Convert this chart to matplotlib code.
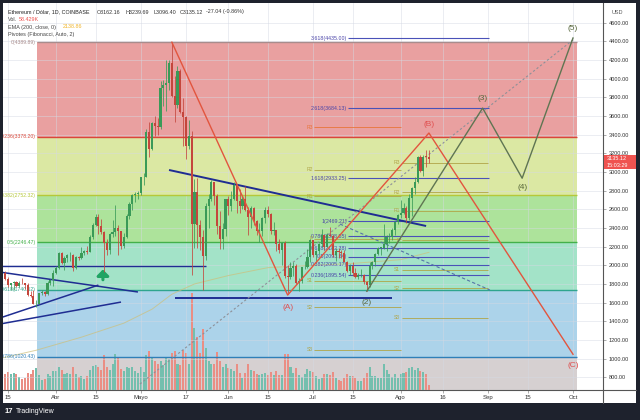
import numpy as np
import pandas as pd
import matplotlib
matplotlib.use('Agg')
import matplotlib.pyplot as plt
import matplotlib.dates as mdates
from matplotlib.patches import Rectangle
from matplotlib.lines import Line2D
from matplotlib.ticker import FormatStrFormatter

plt.rcParams['font.family'] = ['Liberation Sans', 'DejaVu Sans']

# ETH / USD daily candles, 13 Mar - 11 Aug 2021
dates = pd.date_range('2021-03-13', '2021-08-11', freq='D')
first_open = 1765

closes = ([1920, 1855, 1790, 1805, 1822, 1780, 1810, 1808, 1785, 1680, 1670, 1585, 1590, 1700, 1715, 1690, 1815, 1845, 1920]
          + [1970, 2135, 2025, 2080, 2110, 2115, 1970, 2085, 2075, 2135, 2150, 2140, 2300, 2430, 2515,
             2420, 2355, 2235, 2160, 2330, 2360, 2400, 2365, 2210, 2305, 2530, 2660, 2750, 2760, 2770]
          + [2945, 2950, 3430, 3250, 3520, 3490, 3480, 3900, 3930, 3950, 4170, 3810, 3720, 4080, 3640, 3590,
             3280, 3380, 2440, 2780, 2430, 2300, 2100, 2640, 2710, 2890, 2745, 2420, 2280, 2390, 2710]
          + [2630, 2710, 2855, 2690, 2630, 2715, 2590, 2520, 2610, 2470, 2370, 2370, 2510, 2590, 2550,
             2365, 2375, 2230, 2165, 2240, 1890, 1875, 1970, 1990, 1810, 1830, 1980, 1980, 2090, 2270]
          + [2110, 2150, 2225, 2325, 2200, 2325, 2315, 2115, 2150, 2140, 2135, 2035, 1940, 1995, 1915, 1875,
             1895, 1895, 1820, 1785, 1995, 2030, 2125, 2190, 2190, 2230, 2300, 2300, 2380, 2460, 2535]
          + [2555, 2610, 2505, 2725, 2825, 2890, 3160, 3015, 3165, 3162.16, 3135.12])

highs = ([1945, 1935, 1875, 1815, 1835, 1835, 1830, 1860, 1815, 1810, 1725, 1740, 1625, 1705, 1730, 1725, 1830, 1850, 1945]
         + [1990, 2145, 2145, 2095, 2125, 2145, 2125, 2095, 2100, 2195, 2165, 2205, 2320, 2450, 2545,
            2550, 2500, 2365, 2280, 2350, 2490, 2645, 2430, 2370, 2345, 2550, 2675, 2760, 2790, 2800]
         + [2950, 2985, 3460, 3530, 3540, 3600, 3580, 3970, 3990, 4200, 4195, 4389.89, 4030, 4140, 4100, 3790,
            3600, 3560, 3440, 2920, 2940, 2480, 2380, 2670, 2765, 2915, 2890, 2760, 2585, 2450, 2715]
         + [2740, 2800, 2890, 2865, 2815, 2740, 2845, 2620, 2640, 2620, 2490, 2450, 2520, 2620, 2640,
            2560, 2460, 2380, 2280, 2250, 2255, 2000, 2040, 2030, 2010, 1860, 1980, 2050, 2170, 2280]
         + [2270, 2160, 2240, 2390, 2320, 2350, 2410, 2325, 2190, 2190, 2165, 2165, 2050, 2010, 2035, 1975,
            1920, 1960, 1910, 1830, 2035, 2045, 2130, 2195, 2200, 2440, 2320, 2345, 2400, 2470, 2550]
         + [2700, 2665, 2630, 2760, 2835, 2950, 3175, 3185, 3185, 3230, 3239.69])

lows = ([1730, 1845, 1765, 1735, 1735, 1765, 1770, 1800, 1745, 1670, 1655, 1580, 1550, 1585, 1680, 1670, 1680, 1785, 1775]
        + [1905, 1960, 2015, 1950, 2030, 2050, 1935, 1965, 2055, 2065, 2105, 2125, 2140, 2280, 2425,
           2330, 2330, 1930, 2105, 2125, 2300, 2310, 2105, 2175, 2180, 2295, 2500, 2590, 2680, 2715]
        + [2755, 2860, 2945, 3165, 3230, 3380, 3400, 3465, 3710, 3650, 3880, 3800, 3530, 3680, 3630, 3280,
           3140, 3250, 1900, 2180, 2190, 2160, 1730, 2060, 2400, 2690, 2650, 2330, 2170, 2170, 2310]
        + [2540, 2580, 2700, 2560, 2560, 2600, 2580, 2320, 2400, 2430, 2320, 2250, 2310, 2450, 2520,
           2340, 2320, 2150, 2130, 2000, 1860, 1700, 1850, 1880, 1800, 1720, 1815, 1955, 1970, 2030]
        + [2090, 2030, 2125, 2200, 2160, 2200, 2310, 2085, 2050, 2080, 2080, 2030, 1925, 1900, 1890, 1860,
           1850, 1870, 1800, 1720, 1770, 1960, 1990, 2110, 2115, 2170, 2155, 2240, 2275, 2320, 2440]
        + [2510, 2550, 2450, 2485, 2530, 2760, 2880, 2995, 2955, 3055, 3096.40])

volumes_k = ([260, 210, 230, 200, 220, 200, 170, 140, 150, 220, 210, 260, 280, 190, 130, 140, 200, 180, 240]
             + [240, 300, 260, 200, 220, 210, 300, 200, 170, 180, 140, 180, 260, 310, 320,
                300, 260, 450, 300, 260, 330, 470, 420, 270, 240, 300, 280, 290, 250, 220]
             + [290, 230, 450, 500, 420, 370, 330, 380, 320, 420, 400, 480, 500, 330, 320, 520,
                480, 330, 1250, 800, 680, 480, 780, 540, 380, 330, 330, 490, 380, 300, 330]
             + [280, 270, 240, 330, 220, 160, 220, 340, 260, 250, 200, 190, 200, 220, 190,
                230, 190, 240, 190, 190, 460, 470, 300, 220, 280, 190, 170, 200, 270, 250]
             + [230, 180, 140, 160, 210, 200, 190, 230, 160, 130, 110, 160, 200, 180, 180, 160,
                110, 120, 160, 220, 290, 180, 180, 160, 150, 340, 260, 210, 170, 200, 150]
             + [200, 220, 230, 280, 300, 260, 280, 240, 230, 200, 58.429])

# EMA 200 (sampled along the line)
ema_dates = ['2021-03-12', '2021-03-25', '2021-04-10', '2021-04-25', '2021-05-05', '2021-05-12',
             '2021-05-20', '2021-06-01', '2021-06-15', '2021-07-01', '2021-07-15', '2021-08-01', '2021-08-11']
ema_values = [1000, 1090, 1230, 1380, 1530, 1690, 1800, 1890, 1975, 2000, 2020, 2060, 2138.86]

# Fibonacci retracement zones
fib_names = ['0', '0.236', '0.382', '0.5', '0.618', '0.786', '1']
fib_prices = [4389.89, 3378.20, 2752.32, 2246.47, 1740.62, 1020.43, 103.09]
fib_fill = ['#e9a0a0', '#dbe8a3', '#ade39b', '#a3e3c8', '#acd3ea', '#d6d0d1']
fib_line = ['#a88c8c', '#d9473a', '#b5c83a', '#43b04a', '#2fa58e', '#2f7fb8']

# Fibonacci extension
ext_names = ['0.236', '0.382', '0.5', '0.618', '0.786', '1', '1.618', '2.618', '3.618']
ext_prices = [1895.54, 2005.17, 2093.64, 2182.38, 2308.55, 2469.21, 2933.25, 3684.13, 4435.00]

# monthly Fibonacci pivots
pivot_names = ['R3', 'R2', 'R1', 'P', 'S1', 'S2', 'S3']
pivot_jul = [3477, 3022, 2742, 2287, 1832, 1552, 1097]
pivot_aug = [3098, 2781, 2585, 2268, 1951, 1755, 1438]

# Elliott waves
abc_labels = ['', '(A)', '(B)', '(C)']
abc_dates = ['2021-05-12', '2021-06-22', '2021-08-11', '2021-10-01']
abc_prices = [4389.89, 1681, 3417, 1047]
wave_labels = ['(2)', '(3)', '(4)', '(5)']
wave_dates = ['2021-07-20', '2021-08-30', '2021-09-13', '2021-10-01']
wave_prices = [1722, 3684, 2933, 4435]

# trend lines: (start date, start price, end date, end price, width)
trend_lines = [
    ('2021-05-11', 3021, '2021-08-10', 2421, 1.4),
    ('2021-05-13', 1646, '2021-07-29', 1646, 1.4),
    ('2021-03-12', 1993, '2021-05-24', 1993, 1.0),
    ('2021-03-12', 1928, '2021-04-30', 1714, 1.1),
    ('2021-03-12', 1434, '2021-04-16', 1788, 1.1),
    ('2021-03-12', 1370, '2021-04-24', 1606, 1.1),
]

tick_dates = ['2021-03-15', '2021-04-01', '2021-04-15', '2021-05-01', '2021-05-17', '2021-06-01', '2021-06-15',
              '2021-07-01', '2021-07-15', '2021-08-01', '2021-08-16', '2021-09-01', '2021-09-15', '2021-10-01']
tick_labels = ['15', 'Abr', '15', 'Mayo', '17', 'Jun', '15', 'Jul', '15', 'Ago', '16', 'Sep', '15', 'Oct']
price_ticks = np.arange(800, 4601, 200)


def dn(s):
    return mdates.date2num(pd.Timestamp(s))


W, H = 640, 420


def fx(x):
    return x / W


def fy(y):
    return 1 - y / H


fig = plt.figure(figsize=(6.4, 4.2), dpi=100, facecolor='#1e222d')
fig.add_artist(Rectangle((fx(3), fy(403)), 633 / W, 400 / H, transform=fig.transFigure,
                         facecolor='white', edgecolor='none', zorder=-5))

rect = [fx(3), fy(390), 600 / W, 387 / H]
ax = fig.add_axes(rect)                          # zones + axes
axv = fig.add_axes(rect, sharex=ax)              # volume
axf = fig.add_axes(rect, sharex=ax, sharey=ax)   # candles + drawings
ax.set_zorder(0)
axv.set_zorder(1)
axf.set_zorder(2)
for a in (axv, axf):
    a.patch.set_visible(False)
    a.axis('off')

x0 = dn('2021-03-15')
ax.set_xlim(x0 - 5 / 2.825, x0 + 595 / 2.825)
ax.set_ylim(664, 4810)

# grid
for t in tick_dates:
    axf.axvline(dn(t), color='#d5d9e3', lw=0.6, alpha=0.55, zorder=0)
for p in price_ticks:
    axf.axhline(p, color='#d5d9e3', lw=0.6, alpha=0.55, zorder=0)

# retracement zones
band_start = dn('2021-03-25') + 0.3
band_end = dn('2021-10-02') + 0.4
for i in range(6):
    ax.fill_between([band_start, band_end], fib_prices[i + 1], fib_prices[i], color=fib_fill[i], lw=0)
for i in range(6):
    axf.hlines(fib_prices[i], band_start, band_end, color=fib_line[i], lw=1.0, zorder=1)
    axf.text(band_start - 0.4, fib_prices[i], f'{fib_names[i]}({fib_prices[i]:.2f})', ha='right', va='center',
             fontsize=3.7, color=fib_line[i], clip_on=True)

# volume
x = mdates.date2num(dates)
c = np.array(closes, dtype=float)
o = np.array([first_open] + closes[:-1], dtype=float)
up = c >= o
axv.bar(x, volumes_k, width=0.72, color=np.where(up, '#74bfae', '#ea8e84'), lw=0)
axv.set_ylim(0, max(volumes_k) * 387 / 97)

# EMA
axf.plot([dn(d) for d in ema_dates], ema_values, color='#cdbf7a', lw=0.7, alpha=0.7, zorder=2)

# pivots
for start, end, vals in (('2021-07-01', '2021-08-01', pivot_jul), ('2021-08-01', '2021-09-01', pivot_aug)):
    for name, v in zip(pivot_names, vals):
        col = '#e8753a' if (name == 'R3' and vals is pivot_jul) else '#b0a548'
        axf.hlines(v, dn(start) + 0.3, dn(end), color=col, lw=0.6, zorder=2)
        axf.text(dn(start) - 0.2, v, name, ha='right', va='center', fontsize=3.6, color=col)

# fib extension
for name, v in zip(ext_names, ext_prices):
    axf.hlines(v, dn('2021-07-13') + 0.4, dn('2021-09-01') + 0.3, color='#4a52b8', lw=0.8, zorder=2)
    axf.text(dn('2021-07-13') + 0.1, v, f'{name}({v:.2f})', ha='right', va='center', fontsize=3.8,
             color='#4a44a8', zorder=2)

# trend lines
for d1, p1, d2, p2, lw in trend_lines:
    axf.plot([dn(d1), dn(d2)], [p1, p2], color='#1f2d92', lw=lw, zorder=3, solid_capstyle='butt')
axf.plot([dn('2021-04-30') + 0.7, dn('2021-10-01')], [728, 4415], color='#8d9098', lw=0.8,
         ls=(0, (2, 2)), zorder=3)
axf.plot([dn('2021-07-10') + 0.5, dn('2021-09-01') + 0.6], [2442, 1735], color='#5574a8', lw=0.8,
         ls=(0, (3, 2)), zorder=3)

# candles
col = np.where(up, '#3a9a58', '#c4463c')
axf.vlines(x, lows, highs, colors=col, lw=0.55, zorder=4)
axf.bar(x, np.maximum(np.abs(c - o), 4), bottom=np.minimum(o, c), width=0.75, color=col, lw=0, zorder=4)

# waves
axf.plot([dn(d) for d in abc_dates], abc_prices, color='#e2553e', lw=1.0, zorder=5)
axf.plot([dn(d) for d in wave_dates], wave_prices, color='#5f7552', lw=1.0, zorder=5)
abc_off = [0, -9, 6, -8]
for lab, d, p, off in zip(abc_labels, abc_dates, abc_prices, abc_off):
    if lab:
        axf.annotate(lab, (dn(d), p), xytext=(0, off), textcoords='offset points', ha='center',
                     va='center', fontsize=6, color='#e05050', zorder=6)
wave_off = [-8, 7, -7, 7]
for lab, d, p, off in zip(wave_labels, wave_dates, wave_prices, wave_off):
    axf.annotate(lab, (dn(d), p), xytext=(0, off), textcoords='offset points', ha='center',
                 va='center', fontsize=6, color='#56663a', zorder=6)

axf.annotate('', xy=(dn('2021-04-17') + 0.6, 1985), xytext=(dn('2021-04-17') + 0.6, 1815),
             arrowprops=dict(arrowstyle='-|>,head_width=0.35,head_length=0.35', color='#1fa463', lw=2.2))

# axes
ax.yaxis.tick_right()
ax.set_yticks(price_ticks)
ax.yaxis.set_major_formatter(FormatStrFormatter('%.2f'))
ax.tick_params(axis='y', labelsize=4, labelcolor='#333333', length=2, width=0.5, color='#888888', pad=2)
ax.set_xticks([dn(t) for t in tick_dates])
ax.set_xticklabels(tick_labels)
ax.tick_params(axis='x', labelsize=4.3, labelcolor='#333333', length=2, width=0.5, color='#888888', pad=1.5)
ax.spines['top'].set_visible(False)
ax.spines['left'].set_visible(False)
for s in ('right', 'bottom'):
    ax.spines[s].set_color('#555555')
    ax.spines[s].set_linewidth(0.8)
fig.add_artist(Line2D([fx(603), fx(603)], [fy(390), fy(403)], color='#555555', lw=0.8))
fig.add_artist(Line2D([fx(603), fx(636)], [fy(390), fy(390)], color='#555555', lw=0.8))
fig.text(fx(612), fy(12), 'USD', fontsize=4, color='#555555', va='center')

# last price tag
fig.add_artist(Rectangle((fx(604), fy(169)), 32 / W, 14 / H, transform=fig.transFigure,
                         facecolor='#ef5350', edgecolor='none', zorder=5))
fig.text(fx(607), fy(158.5), '3135.12', fontsize=4, color='white', va='center', zorder=6)
fig.text(fx(607), fy(165.5), '15:03:29', fontsize=4, color='white', va='center', zorder=6)

# legend / header
hs = 3.9
fig.text(fx(8), fy(12), 'Ethereum / Dólar, 1D, COINBASE', fontsize=hs, color='#222222', va='center')
for xp, s in ((97, 'O3162.16'), (125, 'H3239.69'), (153, 'L3096.40'), (180, 'C3135.12'), (206, '-27.04 (-0.86%)')):
    fig.text(fx(xp), fy(12), s, fontsize=hs, color='#333333', va='center')
fig.text(fx(8), fy(19.5), 'Vol.', fontsize=hs, color='#444444', va='center')
fig.text(fx(19), fy(19.5), '58.429K', fontsize=hs, color='#ef5350', va='center')
fig.text(fx(8), fy(27), 'EMA (200, close, 0)', fontsize=hs, color='#444444', va='center')
fig.text(fx(63), fy(27), '2138.86', fontsize=hs, color='#f0b429', va='center')
fig.text(fx(8), fy(34.5), 'Pivotes (Fibonacci, Auto, 2)', fontsize=hs, color='#444444', va='center')

# footer
fig.text(fx(5), fy(411.5), '17', fontsize=5.5, color='white', weight='bold', va='center')
fig.text(fx(16), fy(411.5), 'TradingView', fontsize=5, color='white', va='center')

fig.savefig('out.png', dpi=100, facecolor=fig.get_facecolor())
